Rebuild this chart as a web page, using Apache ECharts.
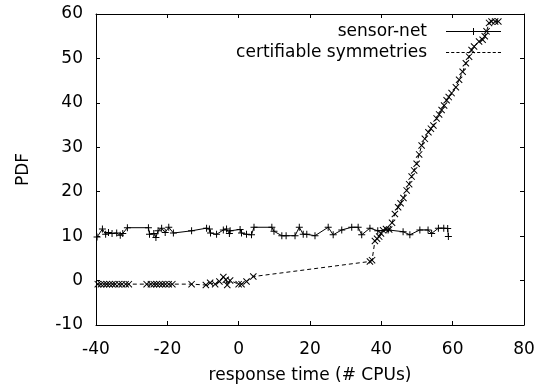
<!DOCTYPE html>
<html>
<head>
<meta charset="utf-8">
<script src="https://cdn.jsdelivr.net/npm/echarts@6/dist/echarts.min.js"></script>
<style>
  html, body { margin: 0; padding: 0; background: #fff; }
  #chart { width: 551px; height: 390px; }
</style>
</head>
<body>
<div id="chart"></div>
<script>
// sensor-net (solid line, + markers)
const sensorX = [-39.7, -38.2, -37.3, -36.5, -35.5, -34.2, -33.2, -32.5, -31.2, -25.3,
  -25.0, -23.8, -23.2, -22.6, -21.6, -20.6, -19.6, -18.3, -13.2, -9.0,
  -8.2, -7.9, -6.2, -4.3, -3.4, -2.6, -2.4, 0.4, 0.8, 2.2,
  3.6, 4.3, 9.3, 9.9, 12.1, 13.3, 15.8, 17.0, 18.1, 19.1,
  21.4, 25.1, 26.5, 28.9, 31.7, 33.5, 34.5, 36.8, 39.0, 41.9,
  46.1, 48.0, 50.8, 53.1, 54.1, 56.0, 57.5, 58.6, 58.8];
const sensorY = [9.8, 11.6, 10.4, 10.8, 10.6, 10.7, 10.2, 10.6, 11.9, 11.9,
  10.4, 10.6, 9.7, 11.2, 11.8, 10.8, 12.0, 10.7, 11.2, 11.8,
  11.6, 10.7, 10.4, 11.4, 11.6, 10.6, 11.2, 11.5, 10.7, 10.4,
  10.3, 12.0, 12.0, 11.1, 10.1, 10.1, 10.1, 12.0, 10.4, 10.4,
  10.1, 12.0, 10.3, 11.4, 12.0, 12.0, 10.3, 11.8, 11.2, 11.4,
  11.0, 10.3, 11.4, 11.4, 10.6, 11.8, 11.8, 11.7, 9.9];

// certifiable symmetries (dashed line, x markers)
const certX = [-39.5, -38.6, -37.8, -37.0, -36.2, -35.4, -34.6, -33.6, -32.7, -31.7,
  -30.8, -25.8, -24.6, -23.8, -23.0, -22.2, -21.4, -20.5, -19.6, -18.6,
  -13.2, -9.2, -8.0, -6.6, -5.4, -4.3, -3.6, -3.2, -2.4, 0.0,
  0.8, 2.2, 4.1, 36.8, 37.4, 38.2, 38.8, 39.4, 39.9, 40.5,
  41.3, 42.2, 43.0, 43.8, 44.7, 45.4, 46.2, 47.1, 47.8, 48.5,
  49.2, 49.9, 50.6, 51.3, 52.2, 53.2, 53.9, 54.6, 55.5, 56.2,
  56.9, 57.6, 58.3, 58.9, 59.7, 60.9, 61.8, 62.8, 63.7, 64.6,
  65.3, 66.0, 67.4, 68.4, 69.0, 69.5, 70.2, 70.9, 71.9, 72.8];
const certY = [-0.8, -0.8, -0.8, -0.8, -0.8, -0.8, -0.8, -0.8, -0.8, -0.8,
  -0.8, -0.8, -0.8, -0.8, -0.8, -0.8, -0.8, -0.8, -0.8, -0.8,
  -0.8, -1.0, -0.5, -0.8, -0.2, 0.8, 0.2, -1.0, 0.0, -0.8,
  -0.8, -0.2, 0.9, 4.3, 4.6, 8.9, 9.4, 9.9, 10.6, 11.3,
  11.6, 11.5, 13.0, 15.0, 16.5, 17.4, 18.6, 20.3, 21.7, 23.4,
  24.8, 26.3, 28.4, 30.4, 31.9, 33.4, 34.2, 34.9, 36.5, 37.4,
  38.4, 39.4, 40.6, 41.3, 42.2, 43.5, 45.2, 47.0, 48.9, 50.4,
  51.9, 52.7, 53.8, 54.2, 55.0, 56.1, 58.0, 58.3, 58.3, 58.3];

const font = "'DejaVu Sans', 'Liberation Sans', Arial, sans-serif";
const fontSize = 17;
const plusSymbol = 'path://M3,0H4V7H3ZM0,3H7V4H0Z';
const crossSymbol = 'path://M0,0.7L0.7,0L7,6.3L6.3,7ZM6.3,0L7,0.7L0.7,7L0,6.3Z';

// legend samples, gnuplot style: line with the point symbol in the middle
const solidIcon = 'path://M0,3H55V4H0ZM27,0H28V7H27Z';
let dashPath = '';
for (let x = 0; x < 55; x += 5) {
  dashPath += 'M' + x + ',3H' + Math.min(x + 3, 55) + 'V4H' + x + 'Z';
}
const dashedIcon = 'path://' + dashPath + 'M0,3H0.1V4H0Z';

const chart = echarts.init(document.getElementById('chart'), null, { renderer: 'canvas' });

const axisBase = {
  axisLine: { show: true, onZero: false, lineStyle: { color: '#000', width: 1 } },
  axisTick: { show: true, inside: true, length: 4, lineStyle: { color: '#000' } },
  splitLine: { show: false },
  axisLabel: { color: '#000', fontFamily: font, fontSize: fontSize }
};

chart.setOption({
  animation: false,
  backgroundColor: '#fff',
  grid: { left: 96, right: 27, top: 14, bottom: 65 },
  legend: {
    orient: 'vertical',
    right: 45,
    top: 17,
    align: 'right',
    itemWidth: 55,
    itemHeight: 7,
    itemGap: 2,
    itemStyle: { borderWidth: 0 },
    textStyle: { color: '#000', fontFamily: font, fontSize: fontSize, padding: [0, 14, 0, 0], lineHeight: 19 },
    data: [
      { name: 'sensor-net', icon: solidIcon },
      { name: 'certifiable symmetries', icon: dashedIcon }
    ]
  },
  xAxis: [
    Object.assign({}, axisBase, {
      type: 'value', min: -40, max: 80, interval: 20, position: 'bottom',
      name: 'response time (# CPUs)', nameLocation: 'middle', nameGap: 42,
      nameTextStyle: { color: '#000', fontFamily: font, fontSize: fontSize },
      axisLabel: { color: '#000', fontFamily: font, fontSize: fontSize, margin: 16 }
    }),
    Object.assign({}, axisBase, {
      type: 'value', min: -40, max: 80, interval: 20, position: 'top',
      axisLabel: { show: false }
    })
  ],
  yAxis: [
    Object.assign({}, axisBase, {
      type: 'value', min: -10, max: 60, interval: 10, position: 'left',
      name: 'PDF', nameLocation: 'middle', nameGap: 64,
      nameTextStyle: { color: '#000', fontFamily: font, fontSize: fontSize },
      axisLabel: { color: '#000', fontFamily: font, fontSize: fontSize, margin: 13 }
    }),
    Object.assign({}, axisBase, {
      type: 'value', min: -10, max: 60, interval: 10, position: 'right',
      axisLabel: { show: false }
    })
  ],
  series: [
    {
      name: 'sensor-net',
      type: 'line',
      xAxisIndex: 0,
      yAxisIndex: 0,
      data: sensorX.map((x, i) => [x, sensorY[i]]),
      symbol: plusSymbol,
      symbolSize: 7,
      showAllSymbol: true,
      lineStyle: { color: '#000', width: 1 },
      itemStyle: { color: '#000' }
    },
    {
      name: 'certifiable symmetries',
      type: 'line',
      xAxisIndex: 0,
      yAxisIndex: 0,
      data: certX.map((x, i) => [x, certY[i]]),
      symbol: crossSymbol,
      symbolSize: 7,
      showAllSymbol: true,
      lineStyle: { color: '#000', width: 1, type: [4, 3] },
      itemStyle: { color: '#000' }
    }
  ]
});

window.addEventListener('resize', () => {
  chart.resize();
});
</script>
</body>
</html>
